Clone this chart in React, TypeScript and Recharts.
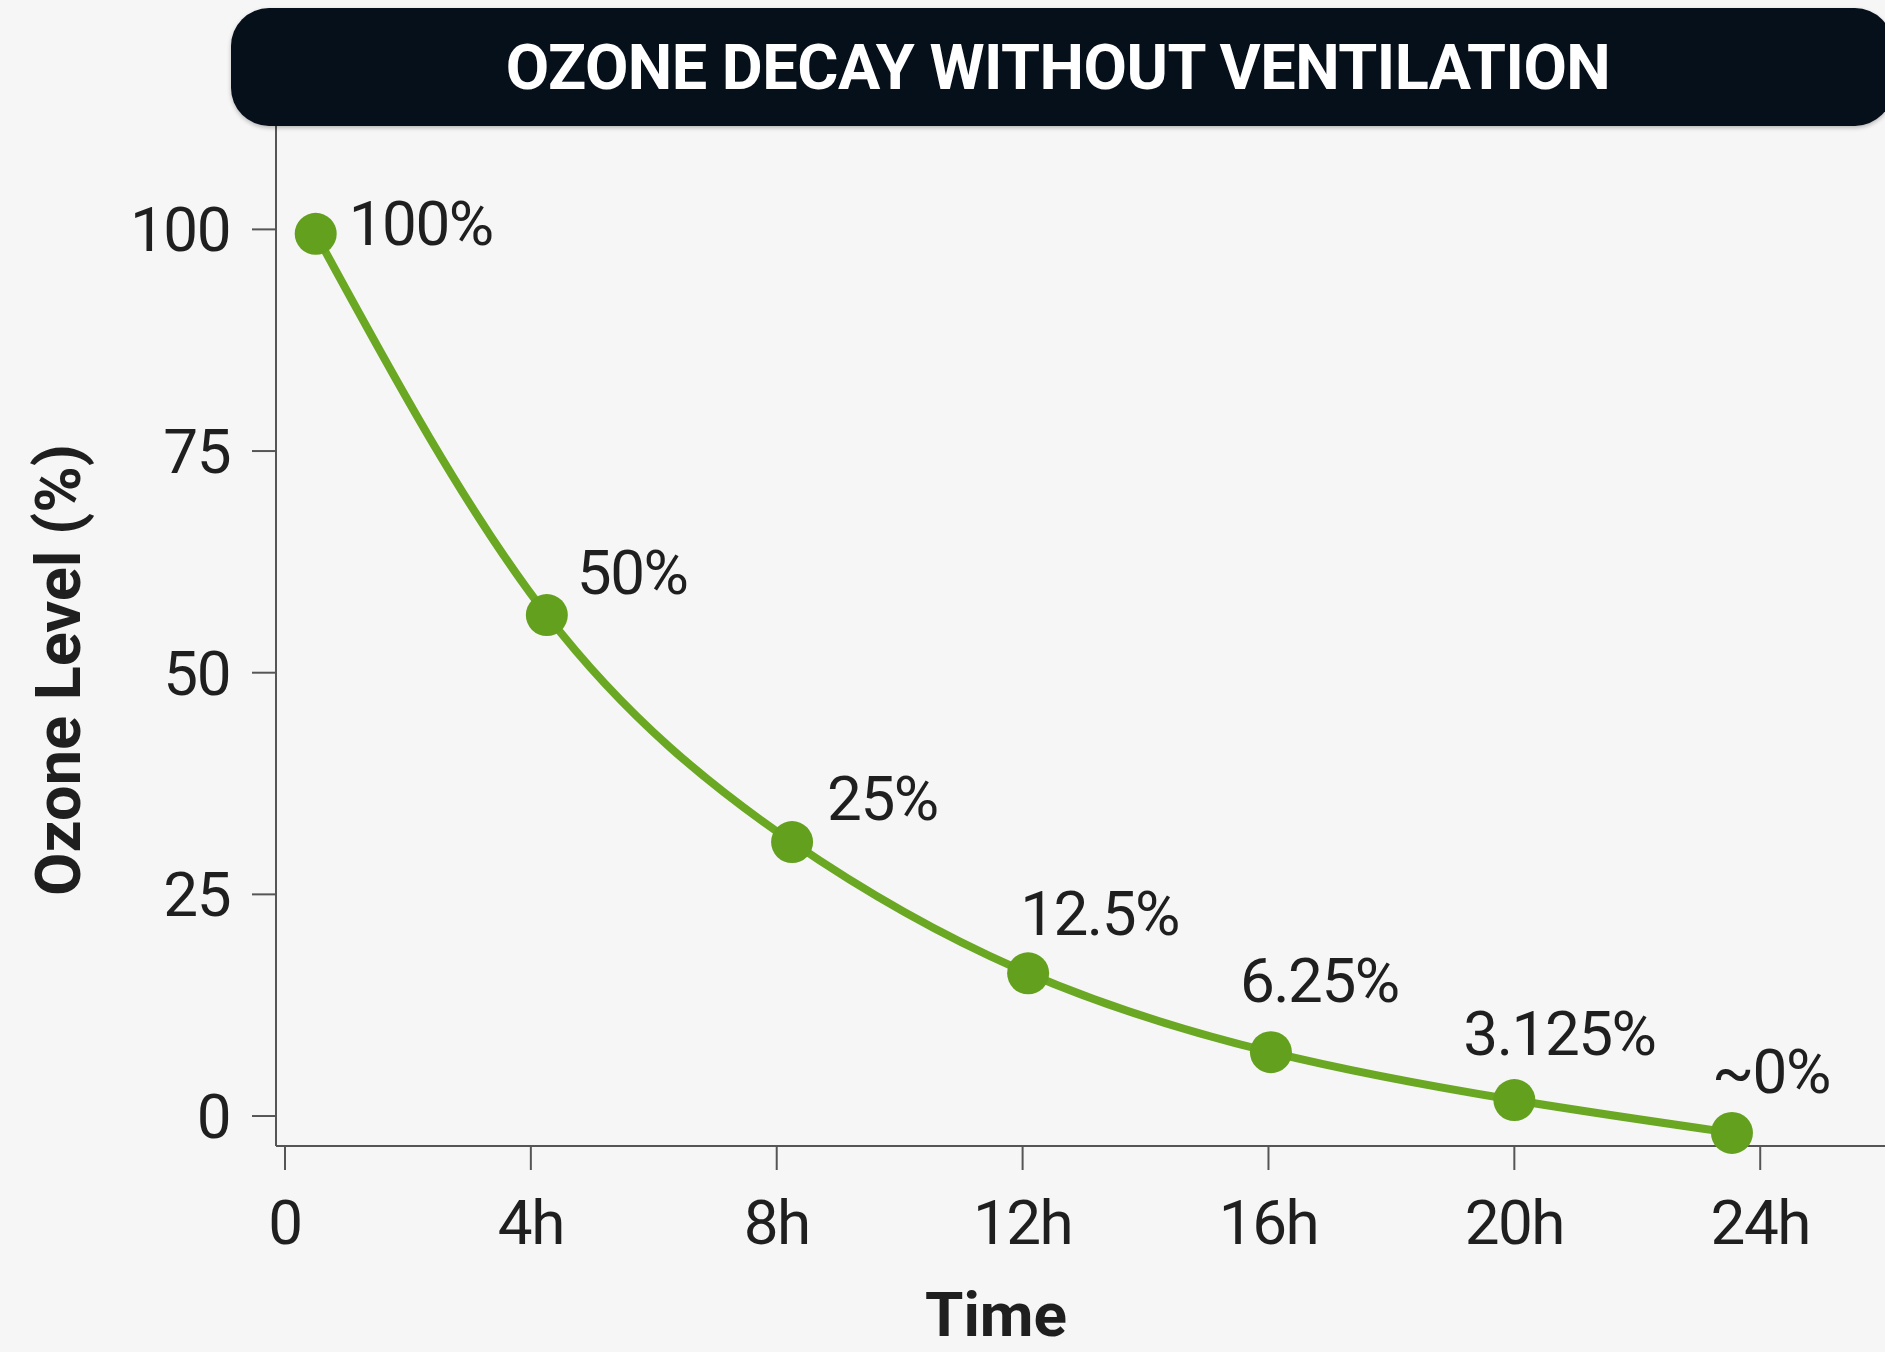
import React from 'react';
import { LineChart, Line, XAxis, YAxis, Label } from 'recharts';

// hours since start
const hours = [0.5, 4.26, 8.25, 12.09, 16.04, 20.0, 23.54];
// ozone level (%) where each dot actually sits
const levels = [99.5, 56.5, 30.9, 16.1, 7.2, 1.8, -1.9];
const pointLabels = ['100%', '50%', '25%', '12.5%', '6.25%', '3.125%', '~0%'];

const xTicks = [0, 4, 8, 12, 16, 20, 24];
const xTickLabels = ['0', '4h', '8h', '12h', '16h', '20h', '24h'];
const yTicks = [0, 25, 50, 75, 100];

const data = hours.map((h, i) => ({ hour: h, level: levels[i], label: pointLabels[i] }));

// where each value label sits relative to its dot (dx, dy to baseline)
const labelNudge = [
  [33, 11],
  [30, -21],
  [35, -22],
  [-8, -38],
  [-31, -50],
  [-51, -45],
  [-20, -40],
];

const GREEN = '#6aa823';
const DOT = '#62a01d';
const INK = '#1f1f1f';
const AXIS = '#555';
const FONT = 'Roboto, "Liberation Sans", sans-serif';

const PointLabel = (props: any) => {
  const { x, y, index } = props;
  const [dx, dy] = labelNudge[index] || [0, 0];
  return (
    <text x={x + dx} y={y + dy} fill={INK} fontSize={62} fontFamily={FONT} letterSpacing={-1.5}>
      {pointLabels[index]}
    </text>
  );
};

const YTitle = (props: any) => {
  const vb = props.viewBox;
  const cx = vb.x + 80;
  const cy = vb.y + vb.height / 2 + 34;
  return (
    <text
      x={cx}
      y={cy}
      transform={`rotate(-90, ${cx}, ${cy})`}
      textAnchor="middle"
      fill={INK}
      fontSize={63}
      fontWeight={700}
      fontFamily={FONT}
    >
      Ozone Level (%)
    </text>
  );
};

const XTitle = (props: any) => {
  const vb = props.viewBox;
  return (
    <text
      x={vb.x + 720}
      y={vb.y + 190}
      textAnchor="middle"
      fill={INK}
      fontSize={62}
      fontWeight={700}
      fontFamily={FONT}
    >
      Time
    </text>
  );
};

const App: React.FC = () => {
  const tickStyle = { fill: INK, fontSize: 62, fontFamily: FONT, letterSpacing: -1.5 };
  return (
    <div
      style={{
        position: 'absolute',
        left: 0,
        top: 0,
        width: 1885,
        height: 1352,
        background: '#f6f6f6',
        overflow: 'hidden',
      }}
    >
      <LineChart width={1885} height={1352} data={data} margin={{ top: 126, right: 0, bottom: 0, left: 0 }}>
        <XAxis
          dataKey="hour"
          type="number"
          domain={[-0.146, 26.03]}
          ticks={xTicks}
          tickFormatter={(v: number) => xTickLabels[xTicks.indexOf(v)]}
          height={206}
          stroke={AXIS}
          strokeWidth={2}
          tickSize={24}
          tickMargin={30}
          tick={tickStyle}
        >
          <Label content={<XTitle />} />
        </XAxis>
        <YAxis
          type="number"
          domain={[-3.38, 111.66]}
          ticks={yTicks}
          width={276}
          stroke={AXIS}
          strokeWidth={2}
          tickSize={24}
          tickMargin={22}
          tick={tickStyle}
        >
          <Label content={<YTitle />} />
        </YAxis>
        <Line
          type="natural"
          dataKey="level"
          stroke={GREEN}
          strokeWidth={8}
          dot={{ r: 21, fill: DOT, stroke: 'none' }}
          activeDot={false}
          label={<PointLabel />}
          isAnimationActive={false}
        />
      </LineChart>
      <div
        style={{
          position: 'absolute',
          left: 231,
          top: 8,
          width: 1662,
          height: 118,
          borderRadius: 38,
          background: '#06101b',
          boxShadow: '0 2px 4px rgba(0,0,0,0.25)',
          display: 'flex',
          alignItems: 'center',
          justifyContent: 'center',
          color: '#fff',
          fontFamily: FONT,
          fontWeight: 700,
          fontSize: 63,
          letterSpacing: -0.5,
          paddingRight: 8,
          boxSizing: 'border-box',
        }}
      >
        OZONE DECAY WITHOUT VENTILATION
      </div>
    </div>
  );
};

export default App;
